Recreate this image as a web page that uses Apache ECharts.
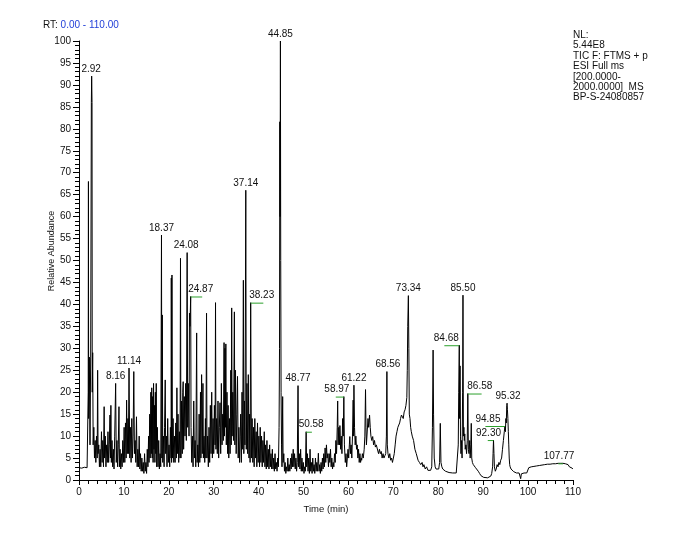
<!DOCTYPE html>
<html>
<head>
<meta charset="utf-8">
<script src="https://cdn.jsdelivr.net/npm/echarts@6/dist/echarts.min.js"></script>
<style>
  html, body { margin: 0; padding: 0; background: #fff; }
  #main { width: 687px; height: 538px; }
</style>
</head>
<body>
<div id="main"></div>
<script>
// TIC trace, [time (min), relative abundance]
var traceA = [
  [0,2.8],[0.3,3],[0.6,2.7],[0.9,3],[1.2,2.9],[1.5,3.1],[1.8,2.8],[1.95,3.2],
  [2.05,20],[2.1,68],[2.15,14],[2.3,28],[2.45,8],[2.6,28],[2.75,86],[2.82,92],[2.9,86],[2.95,20],
  [3.05,29],[3.15,8],[3.3,12],[3.45,5],[3.6,9],[3.75,4],[3.9,10],[4.05,5],[4.15,25],[4.25,6],
  [4.4,8],[4.55,3],[4.7,7],[4.85,3],[5,11],[5.15,4],[5.3,9],[5.45,3],[5.6,16.7],[5.7,5],
  [5.85,10],[6,3],[6.15,8],[6.3,4],[6.45,11],[6.6,4],[6.75,8],[6.9,14.8],[7,5],[7.1,17],
  [7.2,4],[7.35,9],[7.5,3],[7.65,7],[7.8,2.5],[7.95,10],[8.16,22],[8.3,4],[8.45,9],[8.6,3],
  [8.75,8],[8.9,16.7],[9,3],[9.15,7],[9.3,2.5],[9.45,6],[9.6,3],[9.75,9],[9.9,4],[10.05,12],
  [10.2,4],[10.35,13],[10.5,5],[10.6,18.2],[10.75,6],[10.9,14],[11,6],[11.14,25.5],[11.3,5],
  [11.45,12],[11.6,4],[11.75,14],[11.9,5],[12.05,10],[12.2,24.7],[12.35,6],[12.5,9],[12.65,4],
  [12.8,14.4],[12.95,3],[13.1,7],[13.25,3],[13.4,10],[13.55,2.5],[13.7,6],[13.85,2],[14,5],
  [14.15,2],[14.3,4],[14.45,1.5],[14.6,6],[14.75,2],[14.9,4],[15.05,1.5],[15.2,7],[15.35,3],
  [15.5,10],[15.6,4],[15.75,15],[15.85,5],[16,20],[16.1,6],[16.2,21],[16.3,5],[16.4,19],
  [16.5,4],[16.6,22],[16.7,7],[16.8,17],[16.9,4],[17,20],[17.1,6],[17.2,22],[17.3,3],
  [17.45,12],[17.6,3],[17.75,9],[17.9,2.5],[18.05,6],[18.2,3],[18.37,55.8],[18.45,5],
  [18.55,37.6],[18.65,4],[18.8,10],[18.95,3],[19.05,12],[19.2,22.8],[19.3,6],[19.45,10],
  [19.6,3],[19.75,14],[19.9,4],[20.05,8],[20.2,3],[20.35,12],[20.5,5],[20.55,46],[20.62,4],
  [20.7,46.7],[20.8,5],[20.95,14],[21.1,4],[21.25,10],[21.4,4],[21.55,13],[21.7,5],[21.8,21],
  [21.9,6],[22.05,15],[22.2,4],[22.35,11],[22.5,5],[22.6,50.5],[22.7,5],[22.85,18],[23,6],
  [23.1,20],[23.2,22.4],[23.3,7],[23.45,19],[23.6,10],[23.75,22],[23.9,9],[24.08,51.8],
  [24.2,12],[24.35,22],[24.5,10],[24.6,38],[24.7,35],[24.87,41.8],[24.95,12],[25.1,4],
  [25.25,10],[25.4,3],[25.55,18],[25.7,5],[25.85,9],[26,3],[26.2,33.5],[26.3,4],[26.45,8],
  [26.6,3],[26.75,15],[26.9,4],[27.05,20],[27.15,5],[27.3,24],[27.45,6],[27.6,22],[27.7,5],
  [27.85,10],[28,4],[28.15,14],[28.25,5],[28.4,38],[28.5,5],[28.65,10],[28.8,3],[28.95,12],
  [29.1,4],[29.25,17],[29.4,6],[29.55,20],[29.7,5],[29.85,14]
];
var traceB = [
  [30,6],[30.15,17],[30.3,8],[30.4,40.4],[30.5,7],[30.65,14],[30.8,6],[30.95,18],[31.1,5],
  [31.25,12],[31.4,17.6],[31.55,6],[31.7,22],[31.85,8],[32,15],[32.15,9],[32.3,31.3],[32.4,10],
  [32.5,30],[32.6,12],[32.7,31],[32.8,8],[32.95,20],[33.1,6],[33.2,17],[33.35,5],[33.5,14],
  [33.65,6],[33.8,25],[33.9,8],[34,39.2],[34.1,10],[34.25,20],[34.4,9],[34.6,38.3],[34.7,8],
  [34.85,25],[35,6],[35.15,15],[35.3,23.6],[35.45,5],[35.6,12],[35.75,4],[35.9,10],[36,15],
  [36.15,4],[36.3,20],[36.45,7],[36.6,45.5],[36.7,6],[36.85,18],[36.95,8],[37.14,66],[37.25,7],
  [37.4,22],[37.55,6],[37.7,24],[37.85,5],[38,15],[38.1,4],[38.23,40.4],[38.4,5],[38.55,14],
  [38.7,4],[38.85,12],[39,3],[39.15,14],[39.3,5],[39.45,11],[39.6,3],[39.75,13],[39.9,4],
  [40.05,10],[40.2,3],[40.35,12],[40.5,4],[40.65,10],[40.8,3],[40.95,9],[41.1,4],[41.25,11],
  [41.4,3],[41.55,8],[41.7,2.5],[41.85,9],[42,3],[42.15,7],[42.3,2.5],[42.45,8],[42.6,3],
  [42.75,6],[42.9,2.5],[43.05,7],[43.2,2.5],[43.35,5],[43.5,2],[43.65,6],[43.8,2.5],[43.95,4],
  [44.1,2],[44.25,5],[44.4,3],[44.55,12],[44.65,30],[44.72,81.6],[44.78,60],[44.85,100],
  [44.92,50],[45,20],[45.1,8],[45.2,3],[45.35,19],[45.45,4],[45.6,6],[45.75,2],[45.9,4],
  [46.05,1.5],[46.2,3],[46.35,2],[46.5,5],[46.65,2],[46.8,3.5],[46.95,2],[47.1,5],[47.25,2.5],
  [47.4,6],[47.55,3],[47.7,7],[47.85,3],[48,6],[48.15,2.5],[48.3,5],[48.45,2],[48.6,4],
  [48.77,21.5],[48.9,3],[49.05,6],[49.2,2.5],[49.35,7],[49.5,2],[49.65,5],[49.8,2],[49.95,4],
  [50.1,1.5],[50.25,3],[50.4,2],[50.58,11],[50.7,3],[50.85,6],[51,2],[51.15,5],[51.3,1.5],
  [51.45,7],[51.6,2],[51.75,4],[51.9,1.5],[52.05,5],[52.2,2],[52.35,3.5],[52.5,1.5],[52.65,5],
  [52.8,2],[52.95,4],[53.1,2],[53.3,6.1],[53.45,2],[53.6,3.5],[53.75,1.5],[53.9,4],[54.05,2],
  [54.2,5],[54.35,2.5],[54.5,6],[54.65,3],[54.8,7.3],[54.95,4],[55.1,8],[55.25,5],[55.4,6],
  [55.55,3],[55.7,6],[55.85,4],[56,7],[56.15,3],[56.3,5],[56.45,2.5],[56.6,4],[56.75,3],
  [56.9,6],[57.05,4],[57.2,9],[57.35,6],[57.5,12],[57.6,18],[57.7,8],[57.85,12],[58,8],
  [58.1,12.4],[58.25,7],[58.4,10],[58.55,6],[58.7,14],[58.85,10],[58.97,19],[59.1,8],[59.3,4],
  [59.45,6],[59.6,3],[59.75,5],[59.9,7]
];
var traceC = [
  [60.05,5],[60.2,8],[60.3,9.9],[60.45,6],[60.6,8],[60.75,5],[60.9,10],[61.05,18.2],[61.15,10],
  [61.22,21.6],[61.35,12],[61.5,8],[61.65,10],[61.8,7],[61.95,8],[62.1,5],[62.25,7],[62.4,4],
  [62.55,6],[62.7,4],[62.85,5],[62.95,4.5],[63.1,6],[63.3,5],[63.5,7],[63.65,10],[63.8,20.6],
  [63.9,12],[64,8],[64.2,11.4],[64.35,14],[64.5,12],[64.7,14.8],[64.85,12],[65,10],[65.2,9],
  [65.4,9.9],[65.6,8],[65.8,9],[66,7.5],[66.2,8],[66.5,7.6],[66.7,6],[66.9,7],[67.1,6],
  [67.3,6.5],[67.5,5],[67.7,6],[67.9,5],[68.1,5.5],[68.3,6],[68.45,10],[68.56,24.7],[68.65,8],
  [68.8,6],[69,5],[69.2,6],[69.4,4.5],[69.6,5],[69.8,4],[70,5],[70.2,6],[70.4,8],[70.6,10],
  [70.8,11],[71,12],[71.2,12],[71.4,13],[71.6,14],[71.8,14.8],[72,15],[72.2,14],[72.4,15.5],
  [72.6,16],[72.8,17],[73,18.8],[73.1,25],[73.2,35],[73.34,42],[73.45,30],[73.55,15],[73.7,14],
  [73.85,12],[74,11],[74.2,10],[74.5,9],[74.8,7],[75.1,6],[75.5,4.5],[75.8,4],[76.1,3.5],
  [76.4,4],[76.6,3],[76.8,3.5],[77.1,2.5],[77.4,3],[77.7,2.2],[78,2.5],[78.3,2.2],[78.55,3],
  [78.7,12],[78.85,29.6],[78.95,15],[79.1,5],[79.3,3],[79.5,2.5],[79.8,2.2],[80.1,2.5],[80.3,4],
  [80.45,12.9],[80.6,4],[80.8,3],[81,2.5],[81.3,2.2],[81.6,2],[82,1.8],[82.4,1.7],[82.8,1.6],
  [83.2,1.6],[83.6,1.5],[84,1.6],[84.3,2],[84.45,8],[84.55,20],[84.68,30.7],[84.75,14],
  [84.85,26],[84.95,10],[85.05,6],[85.2,9],[85.3,5],[85.42,20],[85.5,42.1],[85.6,10],[85.7,12],
  [85.8,9],[85.9,10.5],[86,7],[86.15,8],[86.3,6],[86.45,9],[86.58,19.7],[86.7,7],[86.85,6],
  [87,9],[87.1,5],[87.25,8],[87.35,12.9],[87.45,5],[87.6,4],[87.8,3.5],[88,3.5],[88.3,2.8],
  [88.6,2.5],[88.9,2],[89.2,1.5],[89.5,1]
];
var traceD = [
  [89.8,0.7],[90.1,0.6],[90.5,0.5],[91,0.5],[91.4,0.6],[91.7,0.9],[91.9,1.5],[92.1,3],[92.2,6],
  [92.3,9.1],[92.4,6],[92.5,3],[92.7,2],[92.9,2.5],[93.1,3.5],[93.3,3],[93.5,4],[93.7,3.5],
  [93.9,4.5],[94.1,5],[94.3,7],[94.5,9],[94.7,11],[94.85,12.3],[94.95,11],[95.05,14],[95.15,13],
  [95.25,17],[95.32,17.5],[95.4,16],[95.5,14],[95.6,11],[95.7,8],[95.8,5],[95.9,3.5],[96,3],
  [96.2,2.5],[96.5,2.2],[96.8,1.9],[97.1,1.7],[97.4,1.6],[97.7,1.5],[98,1.6],[98.2,1.2],
  [98.35,0.3],[98.5,1.4],[98.8,1.5],[99.1,1.6],[99.4,1.5],[99.7,1.6],[100,1.6],[100.15,2.8],
  [100.4,2.6],[100.7,3],[101,2.7],[101.3,3.1],[101.6,2.8],[101.9,3.2],[102.2,2.9],[102.5,3.3],
  [102.8,3],[103.1,3.4],[103.4,3.1],[103.7,3.5],[104,3.2],[104.3,3.6],[104.6,3.3],[104.9,3.6],
  [105.2,3.4],[105.5,3.7],[105.8,3.4],[106.1,3.7],[106.4,3.5],[106.7,3.8],[107,3.5],[107.3,3.8],
  [107.6,3.6],[107.77,3.8],[108,3.5],[108.3,3.7],[108.6,3.3],[108.9,3.5],[109.2,3],[109.5,3.2],
  [109.8,2.7],[110,2.5]
];

// labelled peaks: retention time, apex height, label shift (px)
var peakRt  = [2.92, 8.16, 11.14, 18.37, 24.08, 24.87, 37.14, 38.23, 44.85, 48.77, 50.58,
               58.97, 61.22, 68.56, 73.34, 84.68, 85.50, 86.58, 92.30, 94.85, 95.32, 107.77];
var peakTop = [92, 22, 25.5, 55.8, 51.8, 41.8, 66, 40.4, 100, 21.5, 11,
               19, 21.6, 24.7, 42, 30.7, 42.1, 19.7, 9.1, 12.3, 17.5, 3.8];
var peakDx  = [-1, 0, 0, 0, -1, 10, 0, 11, 0, 0, 5,
               -7, 0, 1, 0, -13, 0, 12, -5, -17, 1, -4];

var infoLines = ['NL:', '5.44E8', 'TIC F: FTMS + p', 'ESI Full ms', '[200.0000-',
                 '2000.0000]  MS', 'BP-S-24080857'];

var trace = traceA.concat(traceB, traceC, traceD);
var peaks = peakRt.map(function (t, i) { return [t, peakTop[i], peakDx[i]]; });

var font = '"Liberation Sans", Arial, sans-serif';
var chart = echarts.init(document.getElementById('main'));

var option = {
  animation: false,
  backgroundColor: '#fff',
  grid: { left: 79, right: 114, top: 41, bottom: 58 },
  xAxis: {
    type: 'value', min: 0, max: 110, interval: 10,
    name: 'Time (min)', nameLocation: 'middle', nameGap: 24,
    nameTextStyle: { fontFamily: font, fontSize: 9.5, color: '#111' },
    axisLine: { lineStyle: { color: '#000', width: 1 } },
    axisTick: { length: 5, lineStyle: { color: '#000' } },
    minorTick: { show: true, splitNumber: 5, length: 4, lineStyle: { color: '#000' } },
    axisLabel: { fontFamily: font, fontSize: 10, color: '#111', margin: 7 },
    splitLine: { show: false }
  },
  yAxis: {
    type: 'value', min: 0, max: 100, interval: 5,
    axisLine: { show: true, lineStyle: { color: '#000', width: 1 } },
    axisTick: { show: true, length: 6, lineStyle: { color: '#000' } },
    minorTick: { show: true, splitNumber: 5, length: 4, lineStyle: { color: '#000' } },
    axisLabel: { fontFamily: font, fontSize: 10, color: '#111', margin: 8 },
    splitLine: { show: false }
  },
  graphic: [
    {
      type: 'text', left: 43, top: 20,
      style: {
        text: '{a|RT: }{b|0.00 - 110.00}',
        rich: {
          a: { fontFamily: font, fontSize: 10, fill: '#111' },
          b: { fontFamily: font, fontSize: 10, fill: '#2340d8' }
        }
      }
    },
    {
      type: 'text', left: 573, top: 30,
      style: { text: infoLines.join('\n'), fontFamily: font, fontSize: 10, lineHeight: 10.4, fill: '#111' }
    },
    {
      type: 'text', x: 52, y: 251, rotation: Math.PI / 2,
      style: { text: 'Relative Abundance', fontFamily: font, fontSize: 9, fill: '#111',
               align: 'center', verticalAlign: 'middle' }
    }
  ],
  series: [
    {
      type: 'line',
      data: trace,
      showSymbol: false,
      symbol: 'none',
      sampling: null,
      lineStyle: { color: '#000', width: 1 },
      silent: true,
      z: 2
    },
    {
      type: 'custom',
      data: peaks,
      clip: false,
      silent: true,
      z: 3,
      renderItem: function (params, api) {
        var p = api.coord([api.value(0), api.value(1)]);
        var dx = api.value(2);
        var children = [{
          type: 'text',
          style: {
            text: peakRt[params.dataIndex].toFixed(2),
            x: p[0] + dx, y: p[1] - 2,
            align: 'center', verticalAlign: 'bottom',
            fontFamily: font, fontSize: 10, fill: '#111'
          }
        }];
        if (Math.abs(dx) > 3) {
          children.push({
            type: 'line',
            shape: { x1: p[0], y1: p[1] + 0.5, x2: p[0] + dx * 1.15, y2: p[1] + 0.5 },
            style: { stroke: '#2ca02c', lineWidth: 1 }
          });
        }
        return { type: 'group', children: children };
      }
    }
  ]
};

chart.setOption(option);
</script>
</body>
</html>
